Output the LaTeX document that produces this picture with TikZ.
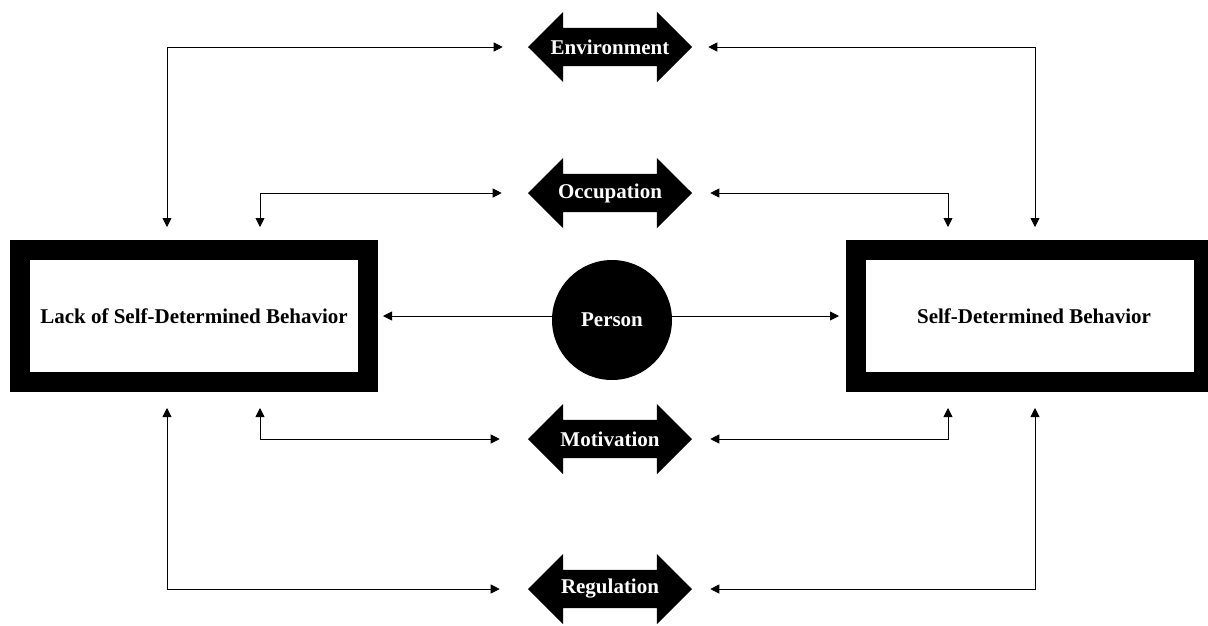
\documentclass[tikz,border=0pt]{standalone}
\usepackage{fontspec}
\setmainfont{Liberation Serif}
\usetikzlibrary{shapes.arrows,arrows.meta}
\begin{document}
\begin{tikzpicture}[x=1pt,y=-1pt,
  every node/.style={font=\bfseries\fontsize{21}{25}\selectfont},
  behbox/.style={draw,line width=20pt,minimum width=348pt,minimum height=132pt,inner sep=0pt},
  factor/.style={double arrow,fill=black,minimum width=70pt,minimum height=164pt,
    double arrow head extend=16pt,double arrow tip angle=90,inner sep=0pt},
  factortext/.style={text=white,inner sep=0pt},
  person/.style={circle,fill=black,text=white,minimum size=120pt,inner sep=0pt},
  conn/.style={line width=0.8pt,{Triangle[length=9pt,width=9pt]}-{Triangle[length=9pt,width=9pt]}},
  pconn/.style={line width=0.8pt,-{Triangle[length=9pt,width=9pt]}}]
\useasboundingbox (0,0) rectangle (1208,625);
\node[behbox] (lack) at (194,316) {Lack of Self-Determined Behavior};
\node[behbox] (sdb) at (1030,316) {\hspace{8pt}Self-Determined Behavior};
\node[person] (person) at (612,320) {Person};
\foreach \name/\txt/\y in {env/Environment/47,occ/Occupation/193,mot/Motivation/439,reg/Regulation/589}
  \node[factor,label={[factortext]center:\txt}] (\name) at (610,\y) {\rule[-19pt]{0pt}{38pt}};
% person to both behaviours
\draw[pconn] (person.west |- lack.east) -- ([xshift=5pt]lack.east);
\draw[pconn] (person.east |- sdb.west) -- ([xshift=-7pt]sdb.west);
% upper factors
\draw[conn] ([xshift=-25pt]env.west) -| ([xshift=-27pt,yshift=13pt]lack.north);
\draw[conn] ([xshift=16pt]env.east) -| ([xshift=5pt,yshift=13pt]sdb.north);
\draw[conn] ([xshift=-26pt]occ.west) -| ([xshift=66pt,yshift=13pt]lack.north);
\draw[conn] ([xshift=18pt]occ.east) -| ([xshift=-82pt,yshift=13pt]sdb.north);
% lower factors
\draw[conn] ([xshift=-28pt]mot.west) -| ([xshift=66pt,yshift=-16pt]lack.south);
\draw[conn] ([xshift=18pt]mot.east) -| ([xshift=-82pt,yshift=-16pt]sdb.south);
\draw[conn] ([xshift=-28pt]reg.west) -| ([xshift=-27pt,yshift=-16pt]lack.south);
\draw[conn] ([xshift=18pt]reg.east) -| ([xshift=5pt,yshift=-16pt]sdb.south);
\end{tikzpicture}
\end{document}
